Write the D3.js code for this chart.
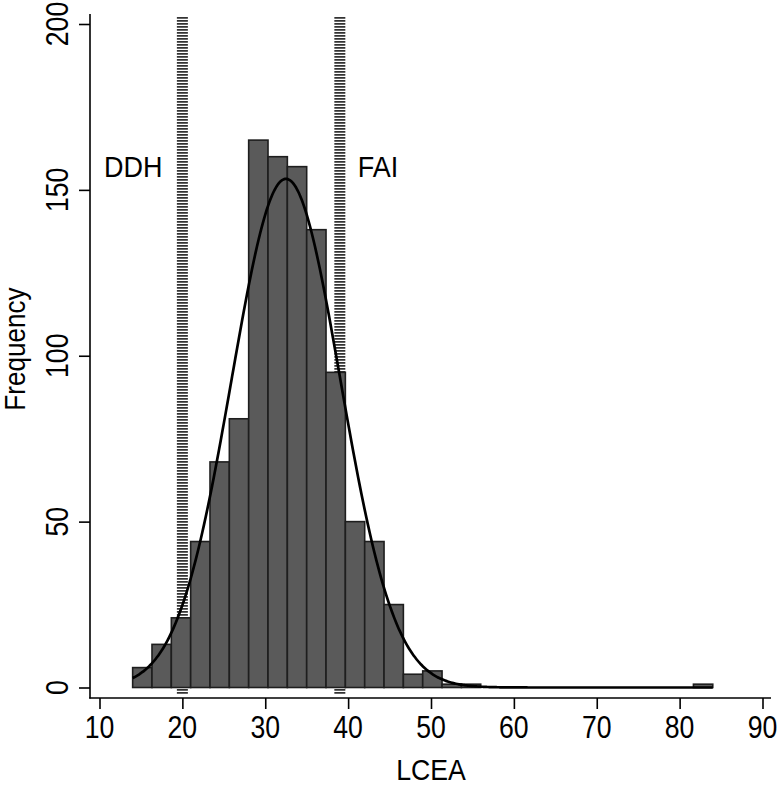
<!DOCTYPE html>
<html lang="en">
<head>
	<meta charset="UTF-8">
	<title>LCEA histogram</title>
	<script type="text/javascript" src="https://cdn.jsdelivr.net/npm/d3@7"></script>
	<style>
		body { margin: 0; background: #fff; }
		text { font-family: "Liberation Sans", Arial, Helvetica, sans-serif; fill: #000; }
		.bar { fill: #5a5a5a; stroke: #1e1e1e; stroke-width: 1.6; }
	</style>
</head>
<body>
<script type="text/javascript">
	// histogram: 30 bins of equal width from 14 to 84
	var binStart = 14;
	var binEnd = 84;
	var counts = [6, 13, 21, 44, 68, 81, 165, 160, 157, 138, 95, 50, 44, 25, 4, 5, 1, 1,
		0, 0, 0, 0, 0, 0, 0, 0, 0, 0, 0, 1];
	var xTicks = [10, 20, 30, 40, 50, 60, 70, 80, 90];
	var yTicks = [0, 50, 100, 150, 200];
	// reference lines and their labels
	var refLines = [20, 39];
	var refLabels = ['DDH', 'FAI'];
	// fitted normal density (mean / sd)
	var fitMean = 32.5;
	var fitSd = 6.55;

	window.onload = function () {
		var W = 779, H = 785;

		var x = d3.scaleLinear().domain([10, 90]).range([99.5, 762.5]);
		var y = d3.scaleLinear().domain([0, 200]).range([687.5, 24]);

		var svg = d3.select('body').append('svg')
			.attr('width', W)
			.attr('height', H);

		var binW = (binEnd - binStart) / counts.length;
		var bins = counts.map(function (c, i) {
			return {x0: binStart + i * binW, x1: binStart + (i + 1) * binW, n: c};
		});
		var total = d3.sum(counts);

		// reference lines (drawn under bars)
		svg.selectAll('.ref')
			.data(refLines)
			.enter().append('line')
			.attr('class', 'ref')
			.attr('x1', function (d) { return x(d); })
			.attr('x2', function (d) { return x(d); })
			.attr('y1', y(202.1))
			.attr('y2', y(-2.1))
			.style('stroke', '#333')
			.style('stroke-width', 11)
			.style('stroke-dasharray', '1.8 1.2');

		svg.selectAll('.bar')
			.data(bins.filter(function (d) { return d.n > 0; }))
			.enter().append('rect')
			.attr('class', 'bar')
			.attr('x', function (d) { return x(d.x0); })
			.attr('width', function (d) { return x(d.x1) - x(d.x0); })
			.attr('y', function (d) { return y(d.n); })
			.attr('height', function (d) { return y(0) - y(d.n); });

		// normal curve scaled to frequency
		var pts = d3.range(binStart, binEnd + 0.001, 0.2);
		var line = d3.line()
			.x(function (d) { return x(d); })
			.y(function (d) {
				var z = (d - fitMean) / fitSd;
				return y(total * binW * Math.exp(-0.5 * z * z) / (fitSd * Math.sqrt(2 * Math.PI)));
			})
			.curve(d3.curveBasis);
		svg.append('path')
			.datum(pts)
			.attr('d', line)
			.style('fill', 'none')
			.style('stroke', '#000')
			.style('stroke-width', 2.7);

		// labels beside the reference lines
		svg.append('text')
			.attr('transform', 'translate(' + (x(refLines[0]) - 20) + ',177) scale(0.93,1)')
			.attr('text-anchor', 'end')
			.style('font-size', '29px')
			.text(refLabels[0]);
		svg.append('text')
			.attr('transform', 'translate(' + (x(refLines[1]) + 18) + ',177) scale(0.93,1)')
			.style('font-size', '29px')
			.text(refLabels[1]);

		// axes
		svg.append('line')
			.attr('x1', 90).attr('x2', 90).attr('y1', 14).attr('y2', 698.5)
			.style('stroke', '#000').style('stroke-width', 1.6);
		svg.append('line')
			.attr('x1', 89.2).attr('x2', 771).attr('y1', 698).attr('y2', 698)
			.style('stroke', '#000').style('stroke-width', 1.6);

		var gx = svg.append('g')
			.attr('transform', 'translate(0,698)')
			.call(d3.axisBottom(x).tickValues(xTicks).tickSize(11).tickFormat(''));
		gx.select('.domain').remove();
		gx.selectAll('line').style('stroke', '#000').style('stroke-width', 1.6);

		var gy = svg.append('g')
			.attr('transform', 'translate(90,0)')
			.call(d3.axisLeft(y).tickValues(yTicks).tickSize(11).tickFormat(''));
		gy.select('.domain').remove();
		gy.selectAll('line').style('stroke', '#000').style('stroke-width', 1.6);

		svg.selectAll('.xlab')
			.data(xTicks)
			.enter().append('text')
			.attr('class', 'xlab')
			.attr('transform', function (d) { return 'translate(' + x(d) + ',738) scale(0.86,1)'; })
			.attr('text-anchor', 'middle')
			.style('font-size', '31px')
			.text(function (d) { return d; });

		svg.selectAll('.ylab')
			.data(yTicks)
			.enter().append('text')
			.attr('class', 'ylab')
			.attr('transform', function (d) { return 'translate(68,' + y(d) + ') rotate(-90) scale(0.86,1)'; })
			.attr('text-anchor', 'middle')
			.style('font-size', '31px')
			.text(function (d) { return d; });

		svg.append('text')
			.attr('transform', 'translate(431,780) scale(0.92,1)')
			.attr('text-anchor', 'middle')
			.style('font-size', '29px')
			.text('LCEA');

		svg.append('text')
			.attr('transform', 'translate(25,349) rotate(-90) scale(0.9,1)')
			.attr('text-anchor', 'middle')
			.style('font-size', '29px')
			.text('Frequency');
	};
</script>
</body>
</html>
